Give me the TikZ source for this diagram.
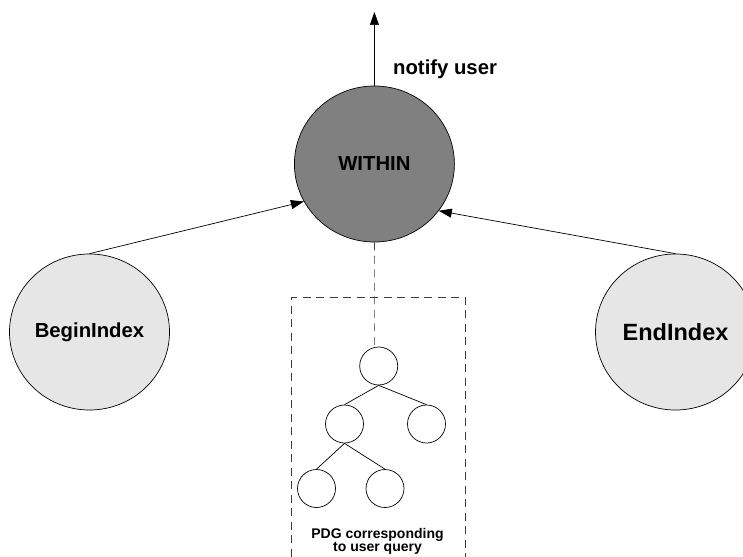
\documentclass[tikz,border=0pt]{standalone}
\usepackage{fontspec}
\setmainfont{Liberation Sans}
\usetikzlibrary{arrows.meta,shapes.geometric}
\definecolor{hubfill}{RGB}{128,128,128}
\definecolor{boundfill}{RGB}{230,230,230}
\definecolor{dashgray}{RGB}{60,60,60}
\begin{document}
\begin{tikzpicture}[x=1pt,y=-1pt,line width=0.7pt,
  arr/.style={-{Triangle[length=13pt,width=9pt]}},
  bignode/.style={ellipse,draw,inner sep=0pt,minimum width=160pt,minimum height=156pt,
    font=\bfseries\fontsize{20.3}{23}\selectfont},
  treenode/.style={circle,draw,minimum size=38pt,inner sep=0pt},
  dashline/.style={draw=dashgray,dash pattern=on 8pt off 5.5pt}]
\useasboundingbox (0,0) rectangle (743,556);

% operator and its two bound operands
\node[bignode,fill=hubfill] (within) at (374.4,164) {WITHIN};
\node[bignode,fill=boundfill] (begin) at (89.5,332) {BeginIndex};
\node[bignode,fill=boundfill,font=\bfseries\fontsize{23.5}{26}\selectfont] (end) at (675.5,332) {EndIndex};

% output notification
\coordinate (out) at (374.4,12);
\draw[arr] (within.north) -- (out);
\node[anchor=base west,font=\bfseries\fontsize{20.3}{23}\selectfont] (notify) at (389.5,75) {notify user};

\draw[arr] (begin.north) -- (within.208);
\draw[arr] (end.north) -- (within.324);

% query dependency graph
\node[treenode] (root) at (378.7,366) {};
\node[treenode] (ml) at (344.5,424) {};
\node[treenode] (mr) at (426.5,424) {};
\node[treenode] (bl) at (316.5,488.5) {};
\node[treenode] (br) at (385,488.5) {};
\draw (root.south) -- (ml.north);
\draw (root.south) -- (mr.north);
\draw (ml.south) -- (bl.north);
\draw (ml.south) -- (br.north);

\draw[dashline] (within.south) -- (root.103);
\draw[dashline] (291.7,570) -- (291.7,297.3) -- (465,297.3) -- (465,570);
\node[anchor=base,align=center,font=\bfseries\fontsize{14}{13.5}\selectfont] (pdg) at (377.5,551.5)
  {PDG corresponding\\to user query};
\end{tikzpicture}
\end{document}
